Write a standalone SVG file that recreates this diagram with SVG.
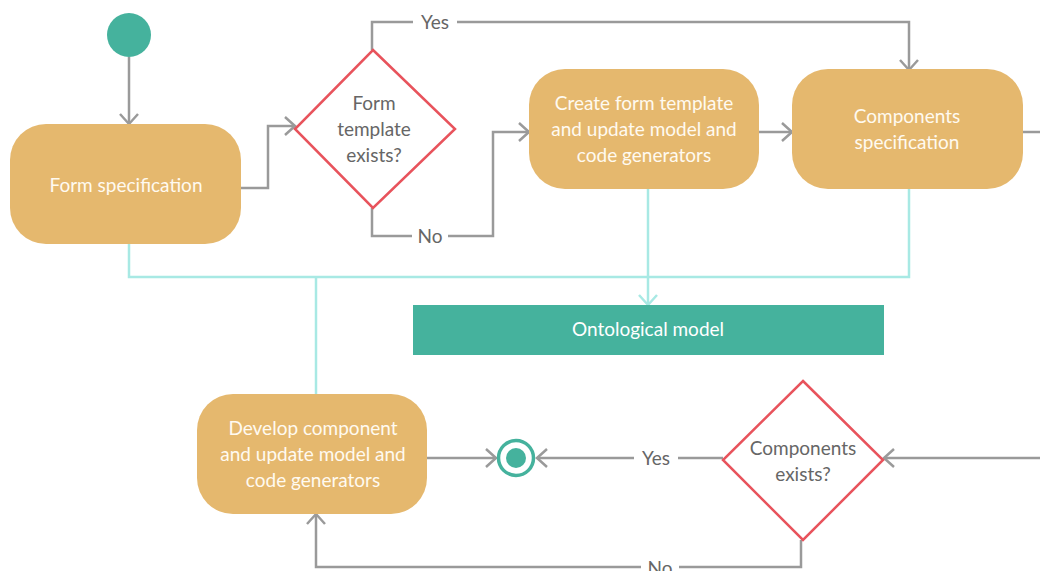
<svg xmlns="http://www.w3.org/2000/svg" width="1040" height="571" viewBox="0 0 1040 571">
<style>
.act{fill:#e5b86e}
.act-t{fill:#fffaf0;font-family:Lato,"Liberation Sans",sans-serif;font-size:19px;text-anchor:middle}
.dec{fill:#fff;stroke:#e8535c;stroke-width:2.5}
.dec-t{fill:#666;font-family:Lato,"Liberation Sans",sans-serif;font-size:19px;text-anchor:middle}
.lbl{fill:#666;font-family:Lato,"Liberation Sans",sans-serif;font-size:19px;text-anchor:middle}
.flow{fill:none;stroke:#9a9a9a;stroke-width:2.5}
.data{fill:none;stroke:#a8e9e4;stroke-width:2.5}
.teal{fill:#45b29d}
</style>
<defs>
<marker id="ah" markerUnits="userSpaceOnUse" viewBox="-13 -11 15 22" markerWidth="15" markerHeight="22" refX="0" refY="0" orient="auto" overflow="visible">
<path d="M-10,-9 L0,0 L-10,9" fill="none" stroke="#9a9a9a" stroke-width="2.5"/>
</marker>
<marker id="ahc" markerUnits="userSpaceOnUse" viewBox="-13 -11 15 22" markerWidth="15" markerHeight="22" refX="0" refY="0" orient="auto" overflow="visible">
<path d="M-10,-9 L0,0 L-10,9" fill="none" stroke="#a8e9e4" stroke-width="2.5"/>
</marker>
</defs>

<g id="connectors">
<path class="data" d="M129,244 V277 H909 V189"/>
<path class="data" d="M316,277 V394"/>
<path class="data" d="M648,189 V305" marker-end="url(#ahc)"/>
<path class="flow" d="M129,57 V124" marker-end="url(#ah)"/>
<path class="flow" d="M241,188 H268 V126 H295" marker-end="url(#ah)"/>
<path class="flow" d="M372,50 V22 H909 V70" marker-end="url(#ah)"/>
<path class="flow" d="M372,208 V236 H493 V132 H529" marker-end="url(#ah)"/>
<path class="flow" d="M759,132 H792" marker-end="url(#ah)"/>
<path class="flow" d="M1023,132 H1040"/>
<path class="flow" d="M1040,458 H884" marker-end="url(#ah)"/>
<path class="flow" d="M723,458 H537" marker-end="url(#ah)"/>
<path class="flow" d="M427,458 H496" marker-end="url(#ah)"/>
<path class="flow" d="M801,540 V567 H316 V514" marker-end="url(#ah)"/>
<rect x="413" y="10" width="44" height="24" fill="#fff"/>
<text class="lbl" x="435" y="29">Yes</text>
<rect x="412" y="224" width="36" height="24" fill="#fff"/>
<text class="lbl" x="430" y="243">No</text>
<rect x="634" y="446" width="44" height="24" fill="#fff"/>
<text class="lbl" x="656" y="465">Yes</text>
<rect x="641" y="555" width="38" height="16" fill="#fff"/>
<text class="lbl" x="660" y="575">No</text>
</g>

<g id="start"><circle class="teal" cx="129" cy="35" r="22"/></g>

<g id="form-spec">
<rect class="act" x="10" y="124" width="231" height="120" rx="36" ry="36"/>
<text class="act-t" x="126" y="192">Form specification</text>
</g>

<g id="form-template-exists">
<polygon class="dec" points="373,50 455,129 373,208 295,129"/>
<text class="dec-t" x="374" y="110">Form</text>
<text class="dec-t" x="374" y="136">template</text>
<text class="dec-t" x="374" y="162">exists?</text>
</g>

<g id="create-template">
<rect class="act" x="529" y="69" width="230" height="120" rx="36" ry="36"/>
<text class="act-t" x="644" y="110">Create form template</text>
<text class="act-t" x="644" y="136">and update model and</text>
<text class="act-t" x="644" y="162">code generators</text>
</g>

<g id="components-spec">
<rect class="act" x="792" y="69" width="231" height="120" rx="36" ry="36"/>
<text class="act-t" x="907" y="123">Components</text>
<text class="act-t" x="907" y="149">specification</text>
</g>

<g id="ontological-model">
<rect class="teal" x="413" y="305" width="471" height="50"/>
<text class="act-t" x="648" y="336" style="fill:#fff">Ontological model</text>
</g>

<g id="develop-component">
<rect class="act" x="197" y="394" width="230" height="120" rx="36" ry="36"/>
<text class="act-t" x="313" y="435">Develop component</text>
<text class="act-t" x="313" y="461">and update model and</text>
<text class="act-t" x="313" y="487">code generators</text>
</g>

<g id="end">
<circle cx="516" cy="458" r="17.5" fill="#fff" stroke="#45b29d" stroke-width="3.5"/>
<circle class="teal" cx="516" cy="458" r="10"/>
</g>

<g id="components-exists">
<polygon class="dec" points="803,381 883,460 803,540 723,460"/>
<text class="dec-t" x="803" y="455">Components</text>
<text class="dec-t" x="803" y="481">exists?</text>
</g>
</svg>
